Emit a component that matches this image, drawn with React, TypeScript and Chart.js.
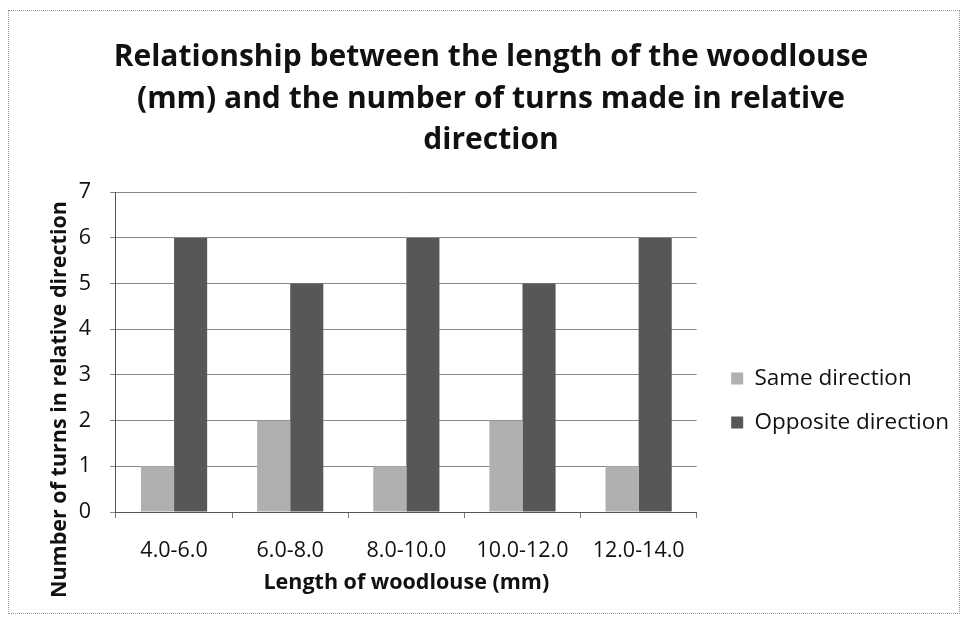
import React, { useEffect, useRef } from "react";
import { Chart, registerables } from "chart.js";

Chart.register(...registerables);

const categories = ["4.0-6.0", "6.0-8.0", "8.0-10.0", "10.0-12.0", "12.0-14.0"];
const sameDirection = [1, 2, 1, 2, 1];
const oppositeDirection = [6, 5, 6, 5, 6];
const yTicks = [0, 1, 2, 3, 4, 5, 6, 7];
const titleLines = [
  "Relationship between the length of the woodlouse",
  "(mm) and the number of turns made in relative",
  "direction",
];
const xTitle = "Length of woodlouse (mm)";
const yTitle = "Number of turns in relative direction";

const LEGEND_SHIFT_X = 13;
const LEGEND_SHIFT_Y = 84;

const legendShift = {
  id: "legendShift",
  beforeLayout(chart: any) {
    const lg = chart.legend;
    if (lg && !lg._patchedFit) {
      const fit = lg.fit.bind(lg);
      lg.fit = function () {
        fit();
        const cols = this.columnSizes || [];
        const pad = this.options.labels.padding;
        const colsW = cols.reduce((s: number, c: any) => s + c.width, 0);
        this.width = colsW + pad + 10 + LEGEND_SHIFT_X;
      };
      lg._patchedFit = true;
    }
  },
  afterLayout(chart: any) {
    const lg = chart.legend;
    if (!lg) return;
    lg.left += LEGEND_SHIFT_X;
    lg.top += 2 * LEGEND_SHIFT_Y;
    if (lg.adjustHitBoxes) lg.adjustHitBoxes();
  },
};

export default function App() {
  const ref = useRef<HTMLCanvasElement | null>(null);
  useEffect(() => {
    if (!ref.current) return;
    const font = "'Open Sans', sans-serif";
    const chart = new Chart(ref.current, {
      type: "bar",
      data: {
        labels: categories,
        datasets: [
          {
            label: "Same direction",
            data: sameDirection,
            backgroundColor: "#b0b0b0",
            borderWidth: 0,
            categoryPercentage: 0.57,
            barPercentage: 1,
          },
          {
            label: "Opposite direction",
            data: oppositeDirection,
            backgroundColor: "#575757",
            borderWidth: 0,
            categoryPercentage: 0.57,
            barPercentage: 1,
          },
        ],
      },
      plugins: [legendShift],
      options: {
        animation: false,
        responsive: false,
        maintainAspectRatio: false,
        layout: { padding: { left: 14, right: 0, top: 26, bottom: 17 } },
        plugins: {
          title: {
            display: true,
            text: titleLines,
            color: "#111",
            font: { family: font, size: 30, weight: "bold", lineHeight: 1.38 },
            padding: { top: 0, bottom: 31 },
          },
          legend: {
            position: "right",
            align: "center",
            labels: {
              color: "#111",
              font: { family: font, size: 22.5 },
              boxWidth: 12,
              boxHeight: 12,
              padding: 21.5,
            },
          },
          tooltip: { enabled: false },
        },
        scales: {
          x: {
            offset: true,
            grid: {
              offset: true,
              drawOnChartArea: false,
              drawTicks: true,
              tickLength: 6,
              color: "#777",
            },
            border: { color: "#555" },
            ticks: {
              color: "#111",
              font: { family: font, size: 21.5 },
              padding: 20,
              maxRotation: 0,
              minRotation: 0,
              autoSkip: false,
            },
            title: {
              display: true,
              text: xTitle,
              color: "#111",
              font: { family: font, size: 21.5, weight: "bold" },
              padding: { top: -13.6, bottom: 0 },
            },
          },
          y: {
            min: 0,
            max: 7,
            afterBuildTicks: (axis: any) => {
              axis.ticks = yTicks.map((v) => ({ value: v }));
            },
            grid: { color: "#8a8a8a", tickLength: 6 },
            border: { color: "#555" },
            ticks: { color: "#111", font: { family: font, size: 21.5 }, padding: 19 },
            title: {
              display: true,
              text: yTitle + "                 ",
              color: "#111",
              font: { family: font, size: 21.5, weight: "bold" },
              padding: { top: 24.1, bottom: -13.2 },
            },
          },
        },
      },
    });
    return () => chart.destroy();
  }, []);
  return (
    <div
      style={{
        width: 952,
        height: 604,
        border: "1px dotted #999",
        boxSizing: "border-box",
        marginTop: 2,
        background: "#fff",
      }}
    >
      <canvas ref={ref} width={950} height={602} />
    </div>
  );
}
